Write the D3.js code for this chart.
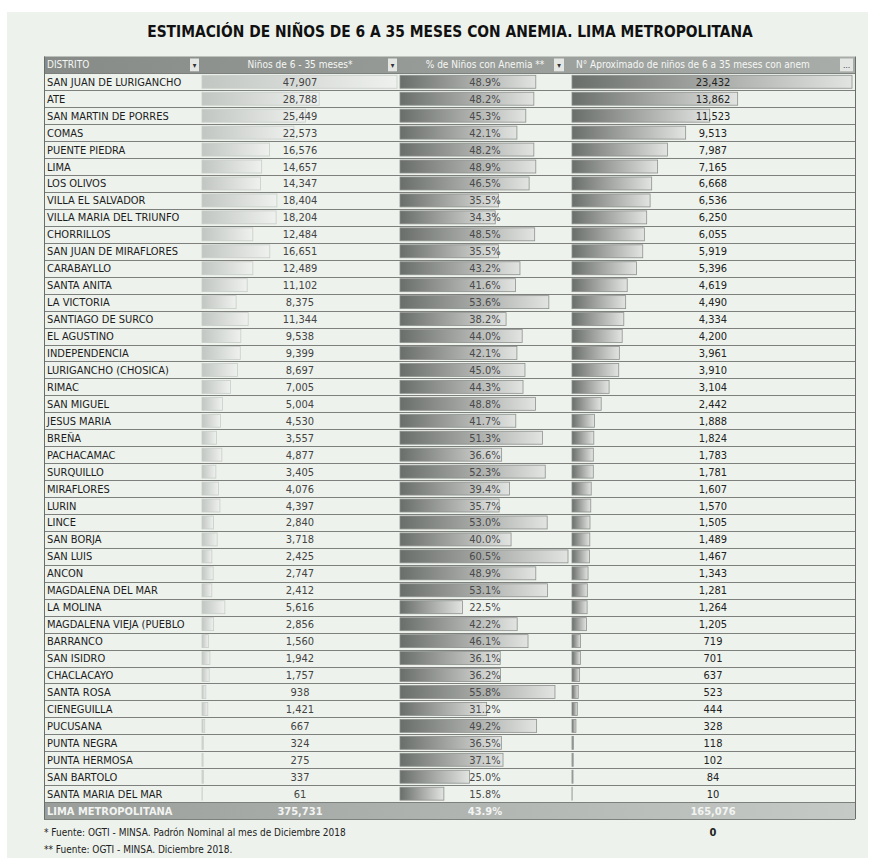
<!DOCTYPE html>
<html>
<head>
<meta charset="utf-8">
<script src="https://cdn.jsdelivr.net/npm/d3@7"></script>
<style>
  body { margin: 0; background: #fff; }
  svg { display: block; }
</style>
</head>
<body>
<svg id="chart" width="873" height="858"></svg>
<script>
const titulo = "ESTIMACIÓN DE NIÑOS DE 6 A 35 MESES CON ANEMIA. LIMA METROPOLITANA";
const encabezados = ["DISTRITO", "Niños de 6 - 35 meses*", "% de Niños con Anemia **", "N° Aproximado de niños de 6 a 35 meses con anem"];

const distritos = [
  "SAN JUAN DE LURIGANCHO", "ATE", "SAN MARTIN DE PORRES", "COMAS", "PUENTE PIEDRA",
  "LIMA", "LOS OLIVOS", "VILLA EL SALVADOR", "VILLA MARIA DEL TRIUNFO", "CHORRILLOS",
  "SAN JUAN DE MIRAFLORES", "CARABAYLLO", "SANTA ANITA", "LA VICTORIA", "SANTIAGO DE SURCO",
  "EL AGUSTINO", "INDEPENDENCIA", "LURIGANCHO (CHOSICA)", "RIMAC", "SAN MIGUEL",
  "JESUS MARIA", "BREÑA", "PACHACAMAC", "SURQUILLO", "MIRAFLORES",
  "LURIN", "LINCE", "SAN BORJA", "SAN LUIS", "ANCON",
  "MAGDALENA DEL MAR", "LA MOLINA", "MAGDALENA VIEJA (PUEBLO", "BARRANCO", "SAN ISIDRO",
  "CHACLACAYO", "SANTA ROSA", "CIENEGUILLA", "PUCUSANA", "PUNTA NEGRA",
  "PUNTA HERMOSA", "SAN BARTOLO", "SANTA MARIA DEL MAR"
];
const ninos = [
  47907, 28788, 25449, 22573, 16576,
  14657, 14347, 18404, 18204, 12484,
  16651, 12489, 11102, 8375, 11344,
  9538, 9399, 8697, 7005, 5004,
  4530, 3557, 4877, 3405, 4076,
  4397, 2840, 3718, 2425, 2747,
  2412, 5616, 2856, 1560, 1942,
  1757, 938, 1421, 667, 324,
  275, 337, 61
];
const pctAnemia = [
  48.9, 48.2, 45.3, 42.1, 48.2,
  48.9, 46.5, 35.5, 34.3, 48.5,
  35.5, 43.2, 41.6, 53.6, 38.2,
  44.0, 42.1, 45.0, 44.3, 48.8,
  41.7, 51.3, 36.6, 52.3, 39.4,
  35.7, 53.0, 40.0, 60.5, 48.9,
  53.1, 22.5, 42.2, 46.1, 36.1,
  36.2, 55.8, 31.2, 49.2, 36.5,
  37.1, 25.0, 15.8
];
const ninosAnemia = [
  23432, 13862, 11523, 9513, 7987,
  7165, 6668, 6536, 6250, 6055,
  5919, 5396, 4619, 4490, 4334,
  4200, 3961, 3910, 3104, 2442,
  1888, 1824, 1783, 1781, 1607,
  1570, 1505, 1489, 1467, 1343,
  1281, 1264, 1205, 719, 701,
  637, 523, 444, 328, 118,
  102, 84, 10
];
const totalNombre = "LIMA METROPOLITANA";
const totalNinos = 375731;
const totalPct = 43.9;
const totalAnemia = 165076;
const notas = [
  "* Fuente: OGTI - MINSA. Padrón Nominal al mes de Diciembre 2018",
  "** Fuente: OGTI - MINSA. Diciembre 2018."
];

const svg = d3.select("#chart");
const font = "'Liberation Sans Narrow', 'DejaVu Sans Condensed', 'Liberation Sans', sans-serif";

// column edges
const cols = [44, 201, 399, 571, 855];
const headTop = 56.5, headH = 16.8, rowH = 16.95;
const bodyTop = headTop + headH;
const nRows = distritos.length + 1;

const y = d3.scaleBand()
  .domain(d3.range(nRows))
  .range([bodyTop, bodyTop + nRows * rowH]);

const x2 = d3.scaleLinear().domain([0, d3.max(ninos)]).range([0, 195]);
const x3 = d3.scaleLinear().domain([0, d3.max(pctAnemia)]).range([0, 168]);
const x4 = d3.scaleLinear().domain([0, d3.max(ninosAnemia)]).range([0, 280]);

const fmt = d3.format(",");
const fmtPct = v => d3.format(".1f")(v) + "%";

// gradients
const defs = svg.append("defs");
function grad(id, c0, c1) {
  const g = defs.append("linearGradient").attr("id", id);
  g.append("stop").attr("offset", "0%").attr("stop-color", c0);
  g.append("stop").attr("offset", "100%").attr("stop-color", c1);
}
grad("gLight", "#c2c6c2", "#eef1ee");
grad("gDark", "#6a6e6a", "#e2e4e2");
grad("gHead", "#878b87", "#a9ada9");
grad("gTotal", "#9a9e9a", "#c6cac6");

// background panel
svg.append("rect").attr("x", 0).attr("y", 0).attr("width", 873).attr("height", 858).attr("fill", "#ffffff");
svg.append("rect").attr("x", 7).attr("y", 12).attr("width", 861).attr("height", 846).attr("fill", "#edf2ec");

svg.append("text")
  .attr("x", 450).attr("y", 37)
  .attr("text-anchor", "middle")
  .attr("font-family", font)
  .attr("font-weight", "bold")
  .attr("font-size", 15.4)
  .attr("fill", "#111")
  .text(titulo);

// header
svg.append("rect")
  .attr("x", cols[0]).attr("y", headTop)
  .attr("width", cols[4] - cols[0]).attr("height", headH)
  .attr("fill", "url(#gHead)");

const headX = [47, 300, 485, 576];
const headAnchor = ["start", "middle", "middle", "start"];
svg.selectAll(".head")
  .data(encabezados)
  .join("text")
  .attr("x", (d, i) => headX[i])
  .attr("y", headTop + headH / 2 + 3.5)
  .attr("text-anchor", (d, i) => headAnchor[i])
  .attr("font-family", font)
  .attr("font-size", 10)
  .attr("fill", "#f5f7f5")
  .text(d => d);

// filter buttons
const btnX = [190, 388, 554, 840];
const btnW = [9, 9, 10, 13];
btnX.forEach((bx, i) => {
  svg.append("rect")
    .attr("x", bx).attr("y", headTop + 2)
    .attr("width", btnW[i]).attr("height", headH - 4)
    .attr("fill", "#e4e6e4");
  svg.append("text")
    .attr("x", bx + btnW[i] / 2).attr("y", headTop + headH / 2 + 3)
    .attr("text-anchor", "middle")
    .attr("font-family", font)
    .attr("font-size", 8)
    .attr("fill", "#333")
    .text(i === 3 ? "…" : "▾");
});

// rows
const rows = svg.append("g");
const bh = rowH - 4;

rows.selectAll(".b2").data(ninos).join("rect")
  .attr("x", cols[1] + 1).attr("y", (d, i) => y(i) + 2)
  .attr("width", d => x2(d)).attr("height", bh)
  .attr("fill", "url(#gLight)")
  .attr("stroke", "#c9cdc9").attr("stroke-width", 0.8);

rows.selectAll(".b3").data(pctAnemia).join("rect")
  .attr("x", cols[2] + 1).attr("y", (d, i) => y(i) + 2)
  .attr("width", d => x3(d)).attr("height", bh)
  .attr("fill", "url(#gDark)")
  .attr("stroke", "#8e918e").attr("stroke-width", 0.8);

rows.selectAll(".b4").data(ninosAnemia).join("rect")
  .attr("x", cols[3] + 1).attr("y", (d, i) => y(i) + 2)
  .attr("width", d => x4(d)).attr("height", bh)
  .attr("fill", "url(#gDark)")
  .attr("stroke", "#8e918e").attr("stroke-width", 0.8);

// total row
const tY = y(distritos.length);
svg.append("rect")
  .attr("x", cols[0]).attr("y", tY)
  .attr("width", cols[4] - cols[0]).attr("height", rowH)
  .attr("fill", "url(#gTotal)");

// grid lines
svg.append("g").selectAll("line")
  .data(d3.range(nRows + 1))
  .join("line")
  .attr("x1", cols[0]).attr("x2", cols[4])
  .attr("y1", i => Math.round(bodyTop + i * rowH) + 0.5)
  .attr("y2", i => Math.round(bodyTop + i * rowH) + 0.5)
  .attr("stroke", "#7d807d").attr("stroke-width", 1);
[cols[0], cols[4]].forEach(cx => {
  svg.append("line")
    .attr("x1", cx + 0.5).attr("x2", cx + 0.5)
    .attr("y1", headTop).attr("y2", tY + rowH)
    .attr("stroke", "#6a6d6a");
});

const ty = i => y(i) + rowH / 2 + 4;

rows.selectAll(".n1").data(distritos).join("text")
  .attr("x", cols[0] + 3).attr("y", (d, i) => ty(i))
  .attr("font-family", font).attr("font-size", 11)
  .attr("fill", "#1c1c1c")
  .text(d => d);

rows.selectAll(".n2").data(ninos).join("text")
  .attr("x", 300).attr("y", (d, i) => ty(i))
  .attr("text-anchor", "middle")
  .attr("font-family", font).attr("font-size", 11)
  .attr("fill", "#444")
  .text(d => fmt(d));

rows.selectAll(".n3").data(pctAnemia).join("text")
  .attr("x", 485).attr("y", (d, i) => ty(i))
  .attr("text-anchor", "middle")
  .attr("font-family", font).attr("font-size", 11)
  .attr("fill", "#4a4a4a")
  .text(d => fmtPct(d));

rows.selectAll(".n4").data(ninosAnemia).join("text")
  .attr("x", 713).attr("y", (d, i) => ty(i))
  .attr("text-anchor", "middle")
  .attr("font-family", font).attr("font-size", 11)
  .attr("fill", "#222")
  .text(d => fmt(d));

const totals = [totalNombre, fmt(totalNinos), fmtPct(totalPct), fmt(totalAnemia)];
const totX = [cols[0] + 3, 300, 485, 713];
svg.selectAll(".tot").data(totals).join("text")
  .attr("x", (d, i) => totX[i]).attr("y", ty(distritos.length))
  .attr("text-anchor", (d, i) => i === 0 ? "start" : "middle")
  .attr("font-family", font).attr("font-size", 11).attr("font-weight", "bold")
  .attr("fill", "#f2f4f2")
  .text(d => d);

// below-table
svg.append("text")
  .attr("x", 713).attr("y", 836)
  .attr("text-anchor", "middle")
  .attr("font-family", font).attr("font-size", 11).attr("font-weight", "bold")
  .attr("fill", "#222")
  .text("0");

svg.selectAll(".nota").data(notas).join("text")
  .attr("x", cols[0]).attr("y", (d, i) => 836 + i * 17)
  .attr("font-family", font).attr("font-size", 10)
  .attr("fill", "#222")
  .text(d => d);
</script>
</body>
</html>
